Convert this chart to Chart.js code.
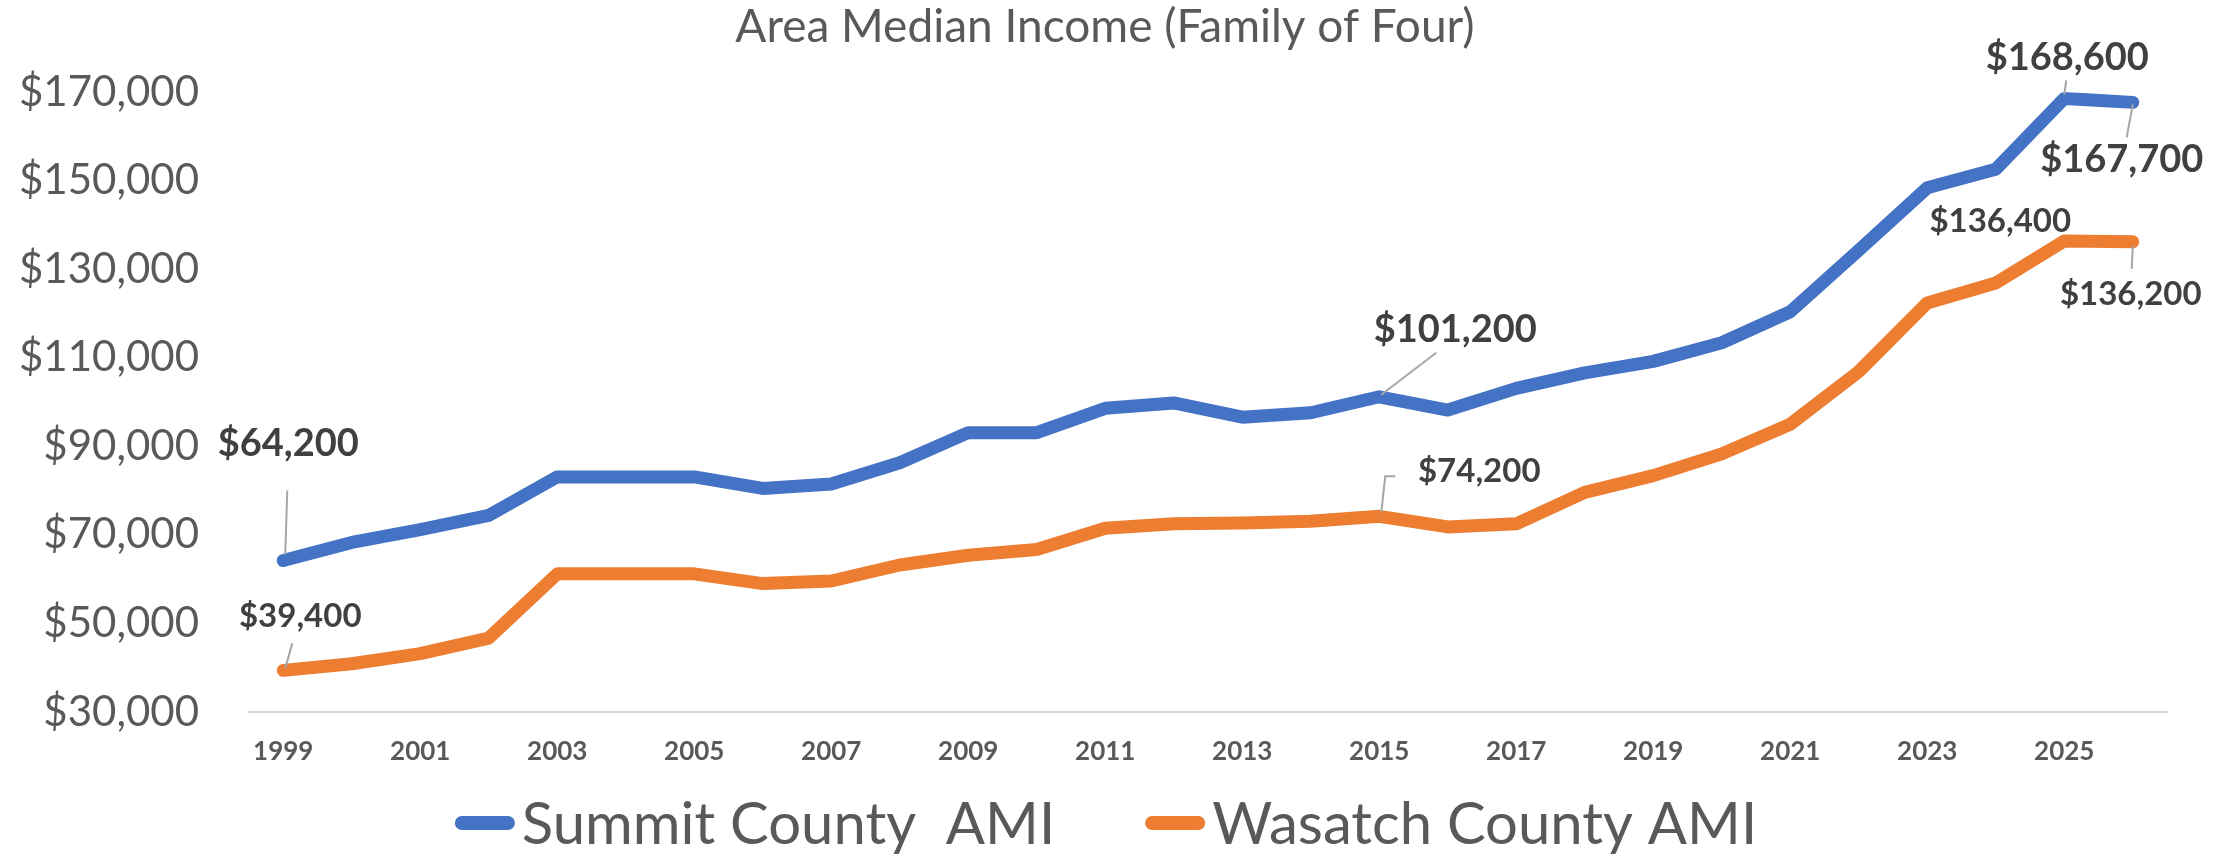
<!DOCTYPE html>
<html>
<head>
<meta charset="utf-8">
<title>Area Median Income (Family of Four)</title>
<script src="https://cdn.jsdelivr.net/npm/chart.js@4.4.1/dist/chart.umd.min.js"></script>
<style>
    html, body { margin: 0; padding: 0; background: #ffffff; }
    #wrap { width: 2232px; height: 857px; position: relative; }
</style>
</head>
<body>
<div id="wrap"><canvas id="amiChart"></canvas></div>
<script>
// Data
const years = ['1999', '2000', '2001', '2002', '2003', '2004', '2005', '2006', '2007', '2008',
    '2009', '2010', '2011', '2012', '2013', '2014', '2015', '2016', '2017', '2018',
    '2019', '2020', '2021', '2022', '2023', '2024', '2025', '2026'];

const summitAmi = [64200, 68300, 71200, 74400, 83100, 83100, 83100, 80500, 81500, 86300,
    93100, 93100, 98600, 99800, 96600, 97600, 101200, 98200, 103100, 106600,
    109200, 113400, 120400, 134300, 148400, 152600, 168600, 167700];

const wasatchAmi = [39400, 40900, 43200, 46700, 61200, 61200, 61200, 59000, 59600, 63200,
    65400, 66700, 71500, 72500, 72700, 73100, 74200, 71800, 72500, 79600,
    83400, 88300, 95000, 106900, 122400, 126900, 136400, 136200];

const yTicks = [30000, 50000, 70000, 90000, 110000, 130000, 150000, 170000];

const seriesNames = ['Summit County  AMI', 'Wasatch County AMI'];
const seriesColors = ['#4472C4', '#ED7D31'];

// Which points carry a value label, and where the label sits relative to the point
const callouts = [
    { series: 0, year: '1999', dx: 5, dy: -117, size: 38, leader: [[2, -6], [4, -70]] },
    { series: 0, year: '2015', dx: 76, dy: -67, size: 38, leader: [[2, -2], [57, -44]] },
    { series: 0, year: '2025', dx: 3, dy: -41, size: 38, leader: [[0, -4], [2, -18]] },
    { series: 0, year: '2026', dx: -11, dy: 57, size: 38, leader: [[0, 2], [-6, 35]] },
    { series: 1, year: '1999', dx: 17, dy: -54, size: 33, leader: [[2, -2], [9, -27]] },
    { series: 1, year: '2015', dx: 100, dy: -45, size: 33, leader: [[2, -4], [6, -40], [16, -40]] },
    { series: 1, year: '2025', dx: -64, dy: -20, size: 33, leader: null },
    { series: 1, year: '2026', dx: -2, dy: 53, size: 33, leader: [[0, 4], [-1, 27]] }
];

const money = v => '$' + v.toLocaleString('en-US');

// Value labels with thin leader lines
const calloutPlugin = {
    id: 'callouts',
    afterDatasetsDraw(chart) {
        const ctx = chart.ctx;
        ctx.save();
        callouts.forEach(c => {
            const idx = years.indexOf(c.year);
            const pt = chart.getDatasetMeta(c.series).data[idx];
            const value = chart.data.datasets[c.series].data[idx];
            if (c.leader) {
                ctx.strokeStyle = '#a6a6a6';
                ctx.lineWidth = 2;
                ctx.beginPath();
                c.leader.forEach(([lx, ly], i) => {
                    if (i === 0) ctx.moveTo(pt.x + lx, pt.y + ly);
                    else ctx.lineTo(pt.x + lx, pt.y + ly);
                });
                ctx.stroke();
            }
            ctx.fillStyle = '#404040';
            ctx.font = 'bold ' + c.size + 'px Lato';
            ctx.textAlign = 'center';
            ctx.textBaseline = 'middle';
            ctx.fillText(money(value), pt.x + c.dx, pt.y + c.dy);
        });
        ctx.restore();
    }
};

// Legend drawn below the axis, Excel style (thick rounded swatch right next to the text)
const bottomLegend = {
    id: 'bottomLegend',
    afterDraw(chart) {
        const ctx = chart.ctx;
        const font = '58px Lato';
        const swW = 60, swH = 14, gap = 7, itemGap = 90;
        ctx.save();
        ctx.font = font;
        const items = chart.data.datasets.map(ds => ({
            text: ds.label,
            color: ds.borderColor,
            w: swW + gap + ctx.measureText(ds.label).width
        }));
        const total = items.reduce((s, it) => s + it.w, 0) + itemGap * (items.length - 1);
        let x = chart.width / 2 - total / 2 - 10;
        const y = 823;
        items.forEach(it => {
            ctx.fillStyle = it.color;
            ctx.beginPath();
            ctx.roundRect(x, y - swH / 2, swW, swH, swH / 2);
            ctx.fill();
            ctx.fillStyle = '#595959';
            ctx.textAlign = 'left';
            ctx.textBaseline = 'middle';
            ctx.fillText(it.text, x + swW + gap, y + 2);
            x += it.w + itemGap;
        });
        ctx.restore();
    }
};

const initAmiChart = () => {
    const ctx = document.getElementById('amiChart');

    new Chart(ctx, {
        type: 'line',
        data: {
            labels: years,
            datasets: [
                {
                    label: seriesNames[0],
                    data: summitAmi,
                    borderColor: seriesColors[0],
                    backgroundColor: seriesColors[0],
                    borderWidth: 13,
                    borderCapStyle: 'round',
                    borderJoinStyle: 'round',
                    pointRadius: 0,
                    tension: 0
                },
                {
                    label: seriesNames[1],
                    data: wasatchAmi,
                    borderColor: seriesColors[1],
                    backgroundColor: seriesColors[1],
                    borderWidth: 13,
                    borderCapStyle: 'round',
                    borderJoinStyle: 'round',
                    pointRadius: 0,
                    tension: 0
                }
            ]
        },
        options: {
            responsive: false,
            animation: false,
            devicePixelRatio: 1,
            layout: { padding: { left: 0, right: 22, top: 0, bottom: 75 } },
            scales: {
                x: {
                    offset: true,
                    grid: { display: false, drawTicks: false },
                    border: { display: true, color: '#d9d9d9', width: 2 },
                    ticks: {
                        autoSkip: false,
                        maxRotation: 0,
                        padding: 24,
                        color: '#595959',
                        font: { family: 'Lato', size: 26, weight: 'bold' },
                        callback: (val, i) => (i % 2 === 0 ? years[i] : '')
                    },
                    afterFit: scale => { scale.height = 70; }
                },
                y: {
                    min: 30000,
                    max: 170000,
                    grid: { display: false, drawTicks: false },
                    border: { display: false },
                    afterBuildTicks: scale => { scale.ticks = yTicks.map(v => ({ value: v })); },
                    ticks: {
                        padding: 50,
                        color: '#595959',
                        font: { family: 'Lato', size: 42 },
                        callback: v => money(v)
                    },
                    afterFit: scale => { scale.width = 249; }
                },
                // empty right-hand spacer so the title centres like the original
                ySpacer: {
                    position: 'right',
                    grid: { display: false, drawTicks: false },
                    border: { display: false },
                    ticks: { display: false },
                    afterFit: scale => { scale.width = 43; }
                }
            },
            plugins: {
                legend: { display: false },
                tooltip: { enabled: false },
                title: {
                    display: true,
                    text: 'Area Median Income (Family of Four)',
                    color: '#595959',
                    font: { family: 'Lato', size: 46, weight: 'normal', lineHeight: 1.2 },
                    padding: { top: 0, bottom: 37 }
                }
            }
        },
        plugins: [calloutPlugin, bottomLegend]
    });
};

document.getElementById('amiChart').width = 2232;
document.getElementById('amiChart').height = 857;
initAmiChart();
</script>
</body>
</html>
